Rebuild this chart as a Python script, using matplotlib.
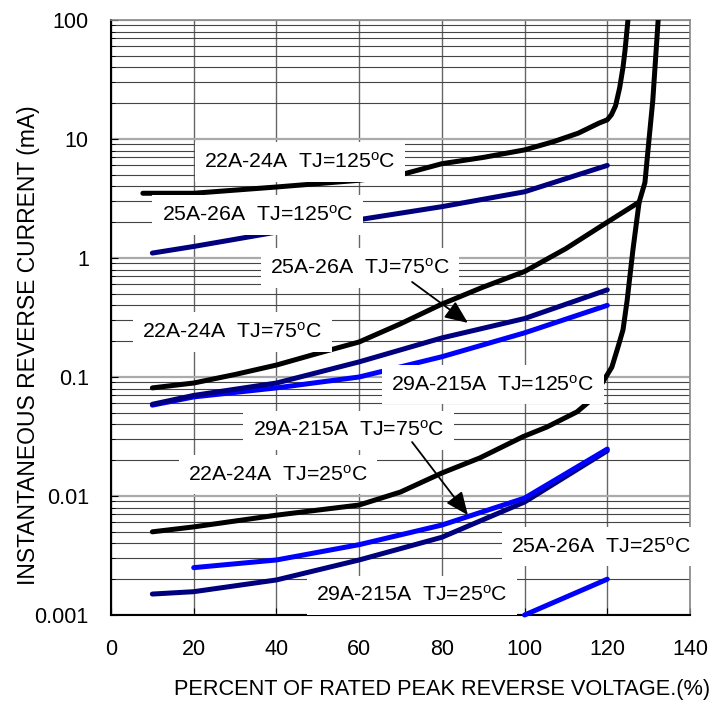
import numpy as np
import matplotlib.pyplot as plt
from matplotlib.ticker import LogLocator, NullFormatter, FixedLocator

plt.rcParams['font.family'] = ['Liberation Sans', 'DejaVu Sans']

# percent of rated peak reverse voltage vs current (mA)
x_22_125 = [7.7, 20, 40, 60, 70, 80, 90, 100, 107, 113, 118, 120, 121, 122, 123, 123.8, 124.3, 125]
y_22_125 = [3.5, 3.5, 3.95, 4.5, 5.0, 6.2, 7.0, 8.1, 9.5, 11.2, 13.6, 14.5, 16, 19, 27, 40, 56, 100]

x_25_125 = [10, 20, 40, 60, 80, 100, 120]
y_25_125 = [1.1, 1.25, 1.65, 2.1, 2.7, 3.6, 6.0]

x_22_75 = [10, 20, 30, 40, 50, 60, 70, 80, 90, 100, 110, 120, 127.7]
y_22_75 = [0.081, 0.089, 0.105, 0.126, 0.158, 0.197, 0.28, 0.41, 0.57, 0.77, 1.2, 2.0, 2.95]

x_25_75 = [10, 20, 40, 60, 80, 100, 120]
y_25_75 = [0.059, 0.07, 0.089, 0.134, 0.213, 0.31, 0.54]

x_29_125 = [10, 20, 40, 60, 80, 100, 120]
y_29_125 = [0.058, 0.068, 0.081, 0.1, 0.148, 0.235, 0.40]

x_22_25 = [10, 20, 40, 60, 70, 80, 89.2, 99.6, 105.4, 112.7, 116.5, 121.1, 122.6, 123.8,
           124.8, 126.2, 127.7, 129.1, 130.1, 131, 132.3]
y_22_25 = [0.005, 0.0055, 0.0069, 0.0084, 0.0108, 0.0156, 0.0209, 0.0315, 0.038, 0.051, 0.066,
           0.121, 0.179, 0.249, 0.44, 1.17, 2.95, 4.3, 10, 21, 100]

x_29_75 = [20, 40, 60, 80, 100, 120]
y_29_75 = [0.0025, 0.0029, 0.0039, 0.0057, 0.0096, 0.0248]

x_25_25 = [10, 20, 40, 60, 80, 100, 120]
y_25_25 = [0.0015, 0.00157, 0.00197, 0.0029, 0.0045, 0.0089, 0.024]

x_29_25 = [100, 120]
y_29_25 = [0.001, 0.002]

labels = ["22A-24A  TJ=125$\\mathregular{^o}$C", "25A-26A  TJ=125$\\mathregular{^o}$C",
          "25A-26A  TJ=75$\\mathregular{^o}$C", "22A-24A  TJ=75$\\mathregular{^o}$C",
          "29A-215A  TJ=125$\\mathregular{^o}$C", "29A-215A  TJ=75$\\mathregular{^o}$C",
          "22A-24A  TJ=25$\\mathregular{^o}$C", "25A-26A  TJ=25$\\mathregular{^o}$C",
          "29A-215A  TJ=25$\\mathregular{^o}$C"]
label_x = [45.7, 35.5, 60.2, 29.3, 92.4, 57.5, 40.4, 118.5, 72.8]
label_y = [6.41, 2.30, 0.824, 0.239, 0.0859, 0.0358, 0.0151, 0.00375, 0.00147]

black = "#000000"
navy = "#00007f"
blue = "#0000ff"

fig = plt.figure(figsize=(7.24, 7.06), dpi=100)
ax = fig.add_axes([111/724, 1 - 615/706, 579/724, 595/706])
ax.set_yscale('log')
ax.set_xlim(0, 140)
ax.set_ylim(0.001, 100)

ax.xaxis.set_major_locator(FixedLocator([0, 20, 40, 60, 80, 100, 120, 140]))
ax.yaxis.set_major_locator(FixedLocator([0.001, 0.01, 0.1, 1, 10, 100]))
ax.yaxis.set_minor_locator(LogLocator(base=10, subs=np.arange(2, 10)))
ax.yaxis.set_minor_formatter(NullFormatter())
ax.set_yticklabels(["0.001", "0.01", "0.1", "1", "10", "100"])

ax.grid(True, which='major', axis='x', color='#666666', lw=1.0)
ax.grid(True, which='major', axis='y', color='#aaaaaa', lw=1.6)
ax.grid(True, which='minor', axis='y', color='#444444', lw=0.8)
ax.set_axisbelow(True)

ax.tick_params(axis='both', which='both', direction='in', labelsize=15.5, colors='black')
ax.tick_params(axis='x', which='major', length=5, pad=17)
ax.tick_params(axis='y', which='major', length=5, pad=16)
ax.tick_params(axis='y', which='minor', length=3)

for s in ['left', 'bottom']:
    ax.spines[s].set_color('black')
    ax.spines[s].set_linewidth(1.5)
for s in ['top', 'right']:
    ax.spines[s].set_color('#888888')
    ax.spines[s].set_linewidth(1.2)

lw = 3.6
ax.plot(x_22_125, y_22_125, color=black, lw=lw, solid_capstyle='round', solid_joinstyle='round', zorder=3)
ax.plot(x_25_125, y_25_125, color=navy, lw=lw, solid_capstyle='round', solid_joinstyle='round', zorder=3)
ax.plot(x_22_75, y_22_75, color=black, lw=lw, solid_capstyle='round', solid_joinstyle='round', zorder=3)
ax.plot(x_29_125, y_29_125, color=blue, lw=lw, solid_capstyle='round', solid_joinstyle='round', zorder=3)
ax.plot(x_25_75, y_25_75, color=navy, lw=lw, solid_capstyle='round', solid_joinstyle='round', zorder=3)
ax.plot(x_22_25, y_22_25, color=black, lw=lw, solid_capstyle='round', solid_joinstyle='round', zorder=3)
ax.plot(x_25_25, y_25_25, color=navy, lw=lw, solid_capstyle='round', solid_joinstyle='round', zorder=3)
ax.plot(x_29_75, y_29_75, color=blue, lw=lw, solid_capstyle='round', solid_joinstyle='round', zorder=3)
ax.plot(x_29_25, y_29_25, color=blue, lw=lw, solid_capstyle='round', zorder=3, clip_on=False)

for t, lx, ly in zip(labels, label_x, label_y):
    ax.text(lx, ly, t, fontsize=15.3, ha='center', va='center', zorder=5,
            bbox=dict(boxstyle='square,pad=0.45', fc='white', ec='none'))

# arrows
astyle = '-|>,head_length=1.4,head_width=0.6'
ax.annotate("", xy=(86.3, 0.285), xytext=(72.8, 0.629), zorder=6,
            arrowprops=dict(arrowstyle=astyle, color='black', lw=1.3, shrinkA=0, shrinkB=0))
ax.annotate("", xy=(86.3, 0.00691), xytext=(72.8, 0.0284), zorder=6,
            arrowprops=dict(arrowstyle=astyle, color='black', lw=1.3, shrinkA=0, shrinkB=0))

ax.set_xlabel("PERCENT OF RATED PEAK REVERSE VOLTAGE.(%)", fontsize=15.7)
ax.xaxis.set_label_coords((442 - 111) / 579, -(679 - 615) / 595)
ax.set_ylabel("INSTANTANEOUS REVERSE CURRENT (mA)", fontsize=16.5)
ax.yaxis.set_label_coords(-(111 - 40) / 579, (615 - 345) / 595)

fig.savefig("out.png", dpi=100)
